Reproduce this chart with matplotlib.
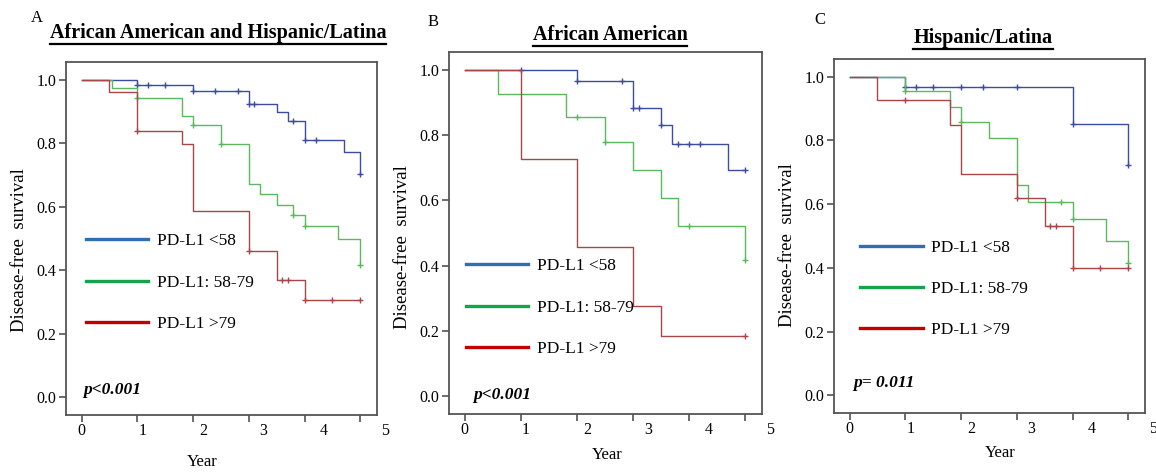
import numpy as np
import matplotlib.pyplot as plt
from matplotlib.lines import Line2D

plt.rcParams['font.family'] = 'Liberation Serif'

groups = ['PD-L1 <58', 'PD-L1: 58-79', 'PD-L1 >79']
years = [0, 1, 2, 3, 4, 5]
end_year = 5.0
titles = ['African American and Hispanic/Latina', 'African American', 'Hispanic/Latina']
letters = ['A', 'B', 'C']
pvalues = ['p<0.001', 'p<0.001', 'p= 0.011']

# event times, survival after each event, censor times
a_low_t = [1.0, 2.0, 3.0, 3.5, 3.7, 4.0, 4.7, 5.0]
a_low_s = [0.984, 0.966, 0.924, 0.897, 0.871, 0.811, 0.774, 0.703]
a_low_c = [1.0, 1.2, 1.5, 2.0, 2.4, 2.8, 3.0, 3.1, 3.8, 4.0, 4.2, 5.0]
a_mid_t = [0.55, 1.0, 1.8, 2.0, 2.5, 3.0, 3.2, 3.5, 3.8, 4.0, 4.6, 5.0]
a_mid_s = [0.974, 0.944, 0.887, 0.858, 0.798, 0.671, 0.640, 0.606, 0.575, 0.540, 0.499, 0.415]
a_mid_c = [1.0, 2.0, 2.5, 3.8, 4.0, 5.0]
a_high_t = [0.5, 1.0, 1.8, 2.0, 3.0, 3.5, 4.0]
a_high_s = [0.960, 0.839, 0.798, 0.588, 0.461, 0.370, 0.307]
a_high_c = [1.0, 3.0, 3.6, 3.7, 4.0, 4.5, 5.0]

b_low_t = [2.0, 3.0, 3.5, 3.7, 4.7]
b_low_s = [0.967, 0.883, 0.831, 0.772, 0.695]
b_low_c = [1.0, 2.0, 2.8, 3.0, 3.1, 3.5, 3.8, 4.0, 4.2, 5.0]
b_mid_t = [0.6, 1.8, 2.5, 3.0, 3.5, 3.8, 5.0]
b_mid_s = [0.928, 0.857, 0.779, 0.693, 0.606, 0.521, 0.416]
b_mid_c = [2.0, 2.5, 4.0, 5.0]
b_high_t = [1.0, 2.0, 3.0, 3.5]
b_high_s = [0.728, 0.456, 0.275, 0.183]
b_high_c = [5.0]

c_low_t = [1.0, 4.0, 5.0]
c_low_s = [0.967, 0.852, 0.722]
c_low_c = [1.0, 1.2, 1.5, 2.0, 2.4, 3.0, 4.0, 5.0]
c_mid_t = [1.0, 1.8, 2.0, 2.5, 3.0, 3.2, 4.0, 4.6, 5.0]
c_mid_s = [0.955, 0.906, 0.859, 0.808, 0.659, 0.607, 0.552, 0.484, 0.414]
c_mid_c = [1.0, 2.0, 3.8, 4.0, 5.0]
c_high_t = [0.5, 1.8, 2.0, 3.0, 3.5, 4.0]
c_high_s = [0.928, 0.850, 0.696, 0.619, 0.531, 0.400]
c_high_c = [1.0, 3.0, 3.6, 3.7, 4.0, 4.5, 5.0]

panels = [
    [(a_low_t, a_low_s, a_low_c), (a_mid_t, a_mid_s, a_mid_c), (a_high_t, a_high_s, a_high_c)],
    [(b_low_t, b_low_s, b_low_c), (b_mid_t, b_mid_s, b_mid_c), (b_high_t, b_high_s, b_high_c)],
    [(c_low_t, c_low_s, c_low_c), (c_mid_t, c_mid_s, c_mid_c), (c_high_t, c_high_s, c_high_c)],
]

curve_colors = ['#3d4c9c', '#5cb85f', '#a8474a']
legend_colors = ['#2f6db5', '#16a34c', '#c00000']

W, H = 1156, 472
fig = plt.figure(figsize=(W / 100, H / 100), dpi=100)

boxes = [(66, 377, 62, 415), (449, 762, 52, 414), (834, 1145, 59, 413)]
legend_pos = [(0.064, 0.515), (0.054, 0.43), (0.084, 0.49)]
p_pos = [(0.055, 0.071), (0.077, 0.052), (0.061, 0.085)]
year_pos = [(0.437, -0.133), (0.505, -0.113), (0.534, -0.113)]
ylab_pos = [(-0.15, 0.467), (-0.147, 0.461), (-0.148, 0.475)]
title_pos = [(218, 33), (610, 35), (983, 38)]
letter_pos = [(37, 18), (433, 22), (820, 20)]

for i, (l, r, t, b) in enumerate(boxes):
    ax = fig.add_axes([l / W, (H - b) / H, (r - l) / W, (b - t) / H])
    for g, (et, es, ec) in enumerate(panels[i]):
        x = [0] + et + [end_year]
        y = [1.0] + es + [es[-1]]
        ax.step(x, y, where='post', color=curve_colors[g], lw=1.0)
        idx = np.searchsorted(et, ec, side='right')
        cy = np.array([1.0] + es)[idx]
        ax.plot(ec, cy, ls='none', marker='+', ms=5, mew=1.0, color=curve_colors[g])
    ax.set_xlim(-0.28, 5.3)
    ax.set_ylim(-0.056, 1.056)
    ax.set_xticks(years, labels=[''] * len(years))
    ax.set_yticks([0, 0.2, 0.4, 0.6, 0.8, 1.0])
    ax.set_yticklabels(['0.0', '0.2', '0.4', '0.6', '0.8', '1.0'], fontsize=11.5)
    ax.tick_params(length=5, width=1.1, color='#444444', pad=2)
    for k in years:
        ax.text(k * 1.088, -0.045, str(k), transform=ax.get_xaxis_transform(),
                ha='center', va='center', fontsize=11.5)
    for s in ax.spines.values():
        s.set_color('#555555')
        s.set_linewidth(1.3)
    ax.text(*year_pos[i], 'Year', transform=ax.transAxes,
            ha='center', va='center', fontsize=12)
    ax.text(*ylab_pos[i], 'Disease-free  survival', transform=ax.transAxes,
            rotation=90, ha='center', va='center', fontsize=13.5)
    handles = [Line2D([], [], color=c, lw=2.4) for c in legend_colors]
    ax.legend(handles, groups, loc='upper left', bbox_to_anchor=legend_pos[i],
              frameon=False, fontsize=12.5, handlelength=3.6, handletextpad=0.5,
              labelspacing=1.45, borderpad=0, borderaxespad=0)
    ax.text(*p_pos[i], pvalues[i], transform=ax.transAxes, ha='left', va='center',
            fontsize=12.5, fontweight='bold', fontstyle='italic')

title_texts = []
for i in range(3):
    tx, ty = title_pos[i]
    tt = fig.text(tx / W, 1 - ty / H, titles[i], ha='center', va='center',
                  fontsize=14.5, fontweight='bold')
    title_texts.append(tt)
    lx, ly = letter_pos[i]
    fig.text(lx / W, 1 - ly / H, letters[i], ha='center', va='center', fontsize=12)

# underline the titles
fig.canvas.draw()
for tt in title_texts:
    bb = tt.get_window_extent()
    yline = (bb.y0 - 0.5) / H
    fig.add_artist(Line2D([bb.x0 / W, bb.x1 / W], [yline, yline],
                          transform=fig.transFigure, color='black', lw=1.6))

fig.savefig('out.png', dpi=100)
